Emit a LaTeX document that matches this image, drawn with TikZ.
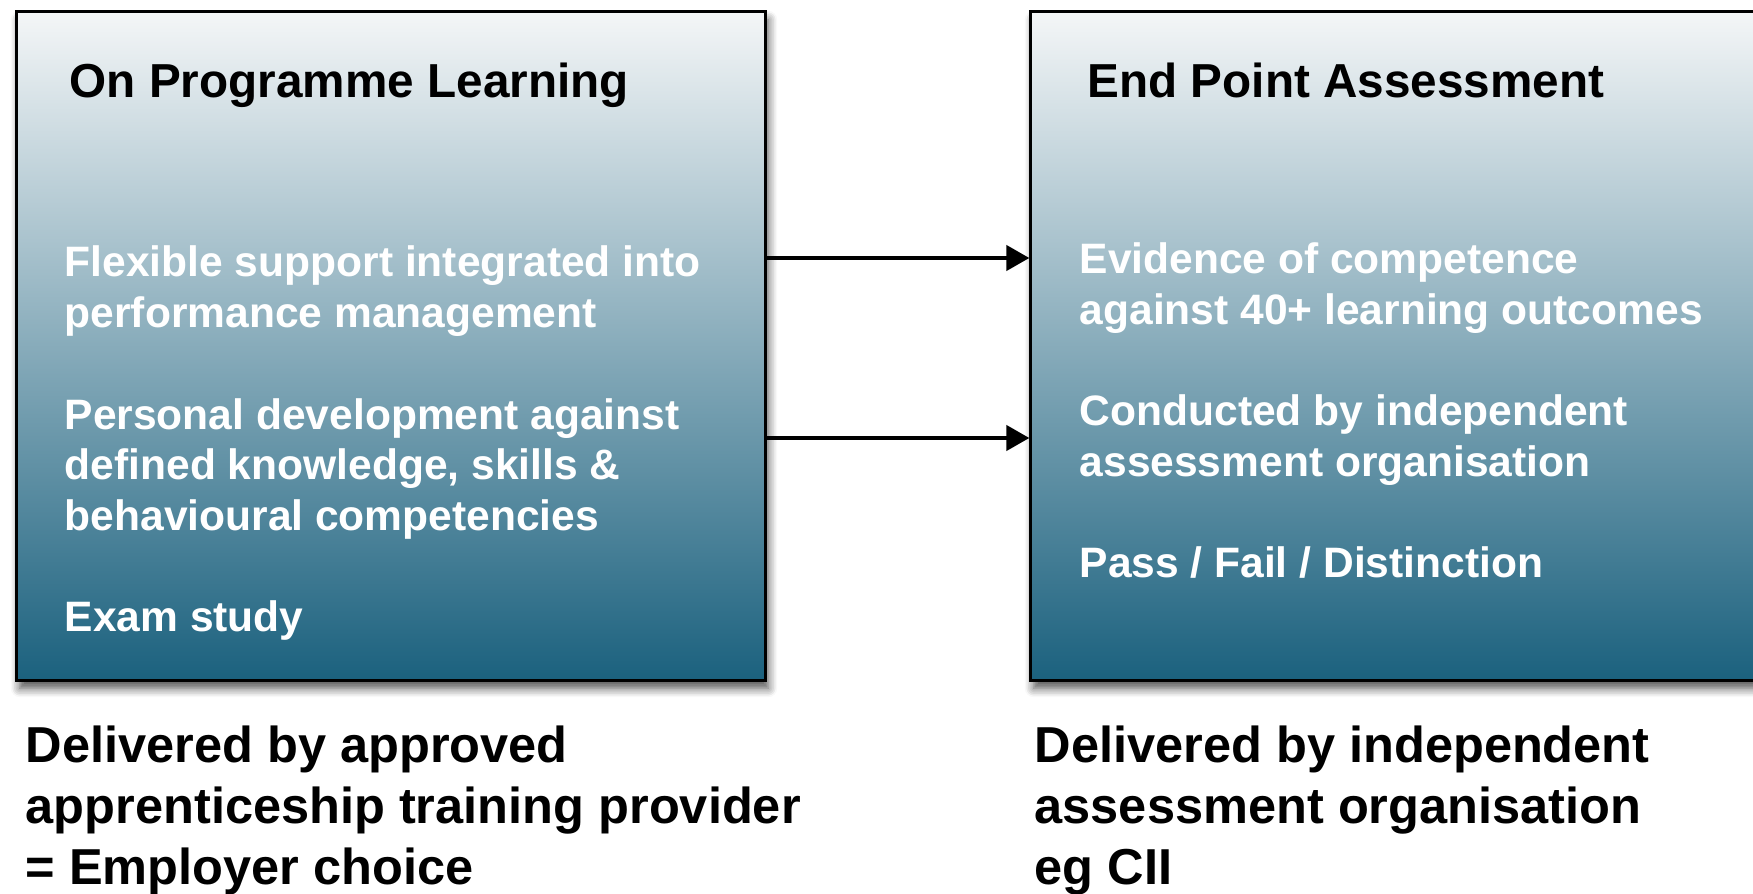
\documentclass[tikz,border=0pt]{standalone}
\usepackage{fontspec}
\setmainfont{Liberation Sans}
\usetikzlibrary{arrows.meta, shadows.blur, positioning}

\definecolor{boxtop}{HTML}{F4F6F7}
\definecolor{boxbottom}{HTML}{1B617E}

\begin{document}
\begin{tikzpicture}[x=0.01cm,y=-0.01cm,
    box/.style={draw=black,line width=0.8pt,inner sep=0pt,
      minimum width=7.48cm,minimum height=6.68cm,
      top color=boxtop,bottom color=boxbottom,
      blur shadow={shadow xshift=0.3mm,shadow yshift=-0.8mm,
        shadow blur steps=6,shadow blur radius=0.9mm,shadow opacity=70}},
    head/.style={anchor=base west,inner sep=0pt,text=black,
      font=\bfseries\fontsize{13.56pt}{16pt}\selectfont},
    body/.style={anchor=base west,inner sep=0pt,align=left,text=white,
      font=\bfseries\fontsize{12.1pt}{14.43pt}\selectfont},
    note/.style={anchor=base west,inner sep=0pt,align=left,text=black,
      font=\bfseries\fontsize{14.37pt}{17.35pt}\selectfont},
    link/.style={line width=1.2pt,-{Triangle[length=2.3mm,width=2.5mm]}}]

  \clip (0,0) rectangle (1753,894);

  % the two stages
  \node[box] (LBox) at (391,346) {};
  \node[box] (RBox) at (1405,346) {};

  \node[head] (LHead) at (69,98) {On Programme Learning};
  \node[head] (RHead) at (1087,98) {End Point Assessment};

  % multi-line nodes sit on the baseline of their last line
  \node[body] (LBody) at (64,632) {Flexible support integrated into\\
    performance management\\[14.43pt]
    Personal development against\\
    defined knowledge, skills \&\\
    behavioural competencies\\[14.43pt]
    Exam study};
  \node[body] (RBody) at (1079,578) {Evidence of competence\\
    against 40+ learning outcomes\\[14.43pt]
    Conducted by independent\\
    assessment organisation\\[14.43pt]
    Pass / Fail / Distinction};

  % who delivers each stage
  \node[note] (LNote) at (25,885) {Delivered by approved\\
    apprenticeship training provider\\
    = Employer choice};
  \node[note] (RNote) at (1034,885) {Delivered by independent\\
    assessment organisation\\
    eg CII};

  \draw[link] (LBox.east |- 0,258) -- (RBox.west |- 0,258);
  \draw[link] (LBox.east |- 0,438) -- (RBox.west |- 0,438);

\end{tikzpicture}
\end{document}
